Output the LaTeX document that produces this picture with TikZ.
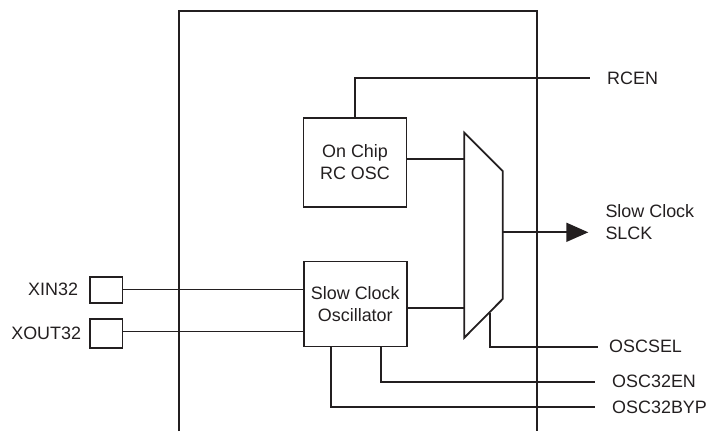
\documentclass[tikz,border=0pt]{standalone}
\usepackage{fontspec}
\setmainfont{Liberation Sans}
\usepackage{tikz}
\usetikzlibrary{arrows.meta,positioning,calc}
\definecolor{slckink}{HTML}{231F20}
\tikzset{
  block/.style={draw=slckink, line width=1.8bp, inner sep=0pt, align=center,
                font=\fontsize{18}{22}\selectfont, text=slckink},
  pinbox/.style={draw=slckink, line width=1.6bp, inner sep=0pt,
                 minimum width=32.5bp},
  pinlabel/.style={inner sep=0pt, font=\fontsize{18}{22}\selectfont, text=slckink},
  sig/.style={anchor=west, inner xsep=17bp, inner ysep=0pt, align=left,
              font=\fontsize{18}{22}\selectfont, text=slckink},
  wire/.style={draw=slckink, line width=1.8bp},
  thinwire/.style={draw=slckink, line width=0.9bp},
}
\begin{document}
\begin{tikzpicture}[x=1bp, y=-1bp]
\useasboundingbox (0,0) rectangle (711,431);

% chip outline, open at the bottom
\draw[wire] (179,431) -- (179,11) -- (537,11) -- (537,431);

\node[block, minimum width=103bp, minimum height=89bp] (rcosc) at (355,162.5)
  {On Chip\\RC OSC};
\node[block, minimum width=103bp, minimum height=85bp] (slosc) at (355.3,304)
  {Slow Clock\\Oscillator};

\node[pinbox, minimum height=26bp] (xin) at (106.3,289.7) {};
\node[pinbox, minimum height=29bp] (xout) at (106.3,333.3) {};
\node[pinlabel, left=11bp of xin] (xinlbl) {XIN32};
\node[pinlabel, left=8bp of xout] (xoutlbl) {XOUT32};

% multiplexer
\coordinate (muxtl) at (464.3,132.7);
\coordinate (muxtr) at (502.7,171);
\coordinate (muxbr) at (502.7,299);
\coordinate (muxbl) at (464.3,337.7);
\draw[wire] (muxtl) -- (muxtr) -- (muxbr) -- (muxbl) -- cycle;
\coordinate (muxin1) at (464.3,159.3);
\coordinate (muxin2) at (464.3,308.3);
\coordinate (muxout) at (502.7,232.3);
\coordinate (muxsel) at (490,313);

% signal ends on the right
\coordinate (rcenend) at (590,78);
\coordinate (slckend) at (588.3,232.3);
\coordinate (selend) at (598,346.7);
\coordinate (enend) at (595,381.7);
\coordinate (bypend) at (595,407);

\node[sig] (rcen) at (rcenend) {RCEN};
\node[sig] (slck) at ([yshift=10bp]slckend) {Slow Clock\\SLCK};
\node[sig, inner xsep=11bp] (oscsel) at (selend) {OSCSEL};
\node[sig] (osc32en) at (enend) {OSC32EN};
\node[sig] (osc32byp) at (bypend) {OSC32BYP};

\draw[wire] (rcosc.north) |- (rcenend);
\draw[wire] (muxin1 -| rcosc.east) -- (muxin1);
\draw[wire] (muxin2 -| slosc.east) -- (muxin2);
\draw[wire, -{Triangle[length=22bp,width=19bp]}] (muxout) -- (slckend);
\draw[wire] (muxsel) |- (selend);
\draw[wire] ([xshift=25.5bp]slosc.south) |- (enend);
\draw[wire] ([xshift=-24.3bp]slosc.south) |- (bypend);
\draw[thinwire] (xin) -- (xin -| slosc.west);
\draw[thinwire] ([yshift=1.5bp]xout.east) -- ([yshift=1.5bp]xout.east -| slosc.west);
\end{tikzpicture}
\end{document}
